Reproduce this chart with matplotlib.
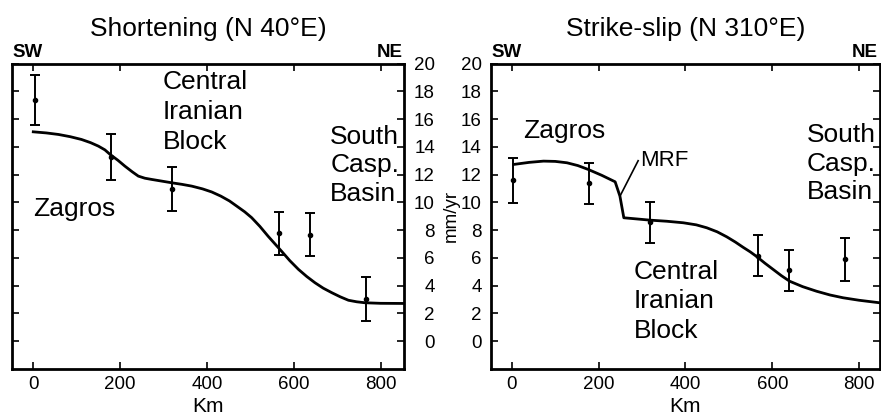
import numpy as np
import matplotlib.pyplot as plt

plt.rcParams['font.family'] = ['Liberation Sans', 'DejaVu Sans']

# GPS stations along the profile (km) and velocities (mm/yr)
station_km = [3, 178, 319, 566, 638, 767]
short_vel = [17.4, 13.25, 10.95, 7.76, 7.66, 3.03]
short_err = [1.8, 1.65, 1.6, 1.56, 1.54, 1.6]
slip_vel = [11.58, 11.36, 8.55, 6.17, 5.1, 5.9]
slip_err = [1.6, 1.5, 1.5, 1.48, 1.5, 1.55]

# model curves
short_curve_km = [0, 30, 58, 85, 111, 132, 150, 165, 177, 195, 211, 228, 242, 257, 273,
                  296, 319, 342, 365, 390, 411, 432, 452, 470, 487, 503, 522, 541, 557,
                  572, 591, 611, 630, 649, 668, 688, 707, 726, 745, 764, 800, 854]
short_curve_v = [15.08, 15.0, 14.89, 14.73, 14.53, 14.3, 14.05, 13.78, 13.45, 13.03,
                 12.61, 12.2, 11.89, 11.74, 11.65, 11.53, 11.41, 11.3, 11.17, 10.97,
                 10.75, 10.45, 10.1, 9.7, 9.32, 8.9, 8.27, 7.56, 7.0, 6.48, 5.8, 5.17,
                 4.66, 4.21, 3.82, 3.49, 3.2, 2.95, 2.84, 2.77, 2.73, 2.72]
slip_curve_km = [4, 40, 73, 100, 127, 152, 176, 207, 238, 249, 258, 290, 318, 357, 395,
                 425, 449, 473, 495, 515, 533, 549, 564, 583, 602, 621, 640, 670, 702,
                 733, 763, 800, 847]
slip_curve_v = [12.73, 12.88, 12.97, 12.95, 12.85, 12.65, 12.37, 11.95, 11.48, 10.45,
                8.89, 8.8, 8.72, 8.64, 8.53, 8.38, 8.17, 7.88, 7.52, 7.14, 6.76, 6.44,
                6.1, 5.62, 5.17, 4.72, 4.32, 3.93, 3.6, 3.33, 3.13, 2.95, 2.77]

yticks = list(range(0, 21, 2))
xticks = [0, 200, 400, 600, 800]

fig = plt.figure(figsize=(8.81, 4.18), dpi=100)
ax1 = fig.add_axes([12 / 881, 49 / 418, 392 / 881, 305.5 / 418])
ax2 = fig.add_axes([491 / 881, 49 / 418, 388.5 / 881, 305.5 / 418])


def style_axes(ax, xlim, right_labels):
    ax.set_xlim(*xlim)
    ax.set_ylim(-2, 20)
    ax.set_xticks(xticks)
    ax.set_yticks(yticks)
    for sp in ax.spines.values():
        sp.set_linewidth(2.0)
    ax.tick_params(direction='in', length=5, width=1.2, top=True, right=True,
                   labelsize=13.5)
    ax.tick_params(axis='x', pad=5)
    if right_labels:
        ax.tick_params(axis='y', labelleft=False, labelright=True, pad=22.3)
        for lab in ax.get_yticklabels():
            lab.set_horizontalalignment('right')
    else:
        ax.tick_params(axis='y', pad=6.7)
    ax.set_xlabel('Km', fontsize=15, labelpad=3)
    ax.annotate('SW', xy=(0, 1), xycoords='axes fraction', xytext=(0, 5),
                textcoords='offset points', ha='left', va='baseline',
                fontsize=13.5, fontweight='bold')
    ax.annotate('NE', xy=(1, 1), xycoords='axes fraction', xytext=(-1, 5),
                textcoords='offset points', ha='right', va='baseline',
                fontsize=13.5, fontweight='bold')


# Shortening panel
ax1.plot(short_curve_km, short_curve_v, color='black', lw=2.0, solid_joinstyle='round')
ax1.errorbar(station_km, short_vel, yerr=short_err, fmt='o', color='black',
             markersize=3, elinewidth=1.4, capsize=3.6, capthick=1.4)
style_axes(ax1, (-49, 854), right_labels=True)
ax1.set_title('Shortening (N 40°E)', fontsize=19, pad=20)
ax1.text(299, 19.5, 'Central\nIranian\nBlock', fontsize=19, va='top', ha='left',
         linespacing=1.3)
ax1.text(0, 10.42, 'Zagros', fontsize=19, va='top', ha='left')
ax1.text(684, 15.6, 'South\nCasp.\nBasin', fontsize=19, va='top', ha='left',
         linespacing=1.25)

# Strike-slip panel
ax2.plot(slip_curve_km, slip_curve_v, color='black', lw=2.0, solid_joinstyle='round')
ax2.errorbar(station_km, slip_vel, yerr=slip_err, fmt='o', color='black',
             markersize=3, elinewidth=1.4, capsize=3.6, capthick=1.4)
style_axes(ax2, (-48, 847), right_labels=False)
ax2.set_title('Strike-slip (N 310°E)', fontsize=19, pad=20)
ax2.text(26, 15.97, 'Zagros', fontsize=19, va='top', ha='left')
ax2.text(296, 13.8, 'MRF', fontsize=16, va='top', ha='left')
ax2.plot([291, 250], [13.0, 10.5], color='black', lw=1.2)
ax2.text(679, 15.73, 'South\nCasp.\nBasin', fontsize=19, va='top', ha='left',
         linespacing=1.25)
ax2.text(280, 5.88, 'Central\nIranian\nBlock', fontsize=19, va='top', ha='left',
         linespacing=1.3)

fig.text(451.7 / 881, 1 - 216 / 418, 'mm/yr', rotation=90, ha='center',
         va='center', fontsize=13.5)

fig.savefig('out.png', dpi=100)
